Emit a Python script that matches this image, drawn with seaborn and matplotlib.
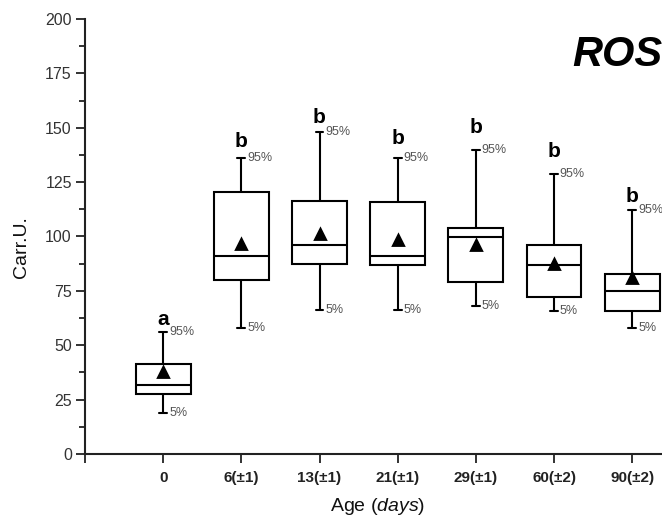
import numpy as np
import pandas as pd
import matplotlib
matplotlib.use("Agg")
import matplotlib.pyplot as plt
import seaborn as sns
from matplotlib.ticker import MultipleLocator

# ---- data ----
ages = ["0", "6(±1)", "13(±1)", "21(±1)", "29(±1)", "60(±2)", "90(±2)"]
p5 = [19.0, 57.9, 66.2, 66.2, 68.0, 65.9, 58.1]
q1 = [27.7, 80.0, 87.4, 87.0, 78.9, 72.3, 65.9]
median = [31.7, 91.2, 96.1, 91.2, 99.6, 87.0, 74.9]
q3 = [41.2, 120.6, 116.5, 116.0, 104.0, 96.1, 82.8]
p95 = [56.0, 135.9, 147.9, 135.9, 139.9, 128.7, 112.0]
mean = [37.8, 96.6, 101.2, 98.4, 95.9, 87.4, 80.8]
letters = ["a", "b", "b", "b", "b", "b", "b"]
letter_y = [59.3, 141.1, 152.0, 142.5, 147.4, 136.7, 116.0]
yticks = [0, 25, 50, 75, 100, 125, 150, 175, 200]

# five summary values per group -> quartiles equal q1/median/q3, whiskers = min/max
rows = []
for a, v0, v1, v2, v3, v4 in zip(ages, p5, q1, median, q3, p95):
    for v in (v0, v1, v2, v3, v4):
        rows.append({"age": a, "value": v})
df = pd.DataFrame(rows)

sns.set_style("ticks")
plt.rcParams["font.family"] = ["Liberation Sans", "DejaVu Sans"]
plt.rcParams["mathtext.fontset"] = "custom"
plt.rcParams["mathtext.rm"] = "Liberation Sans"
plt.rcParams["mathtext.it"] = "Liberation Sans:italic"
plt.rcParams["text.color"] = "black"
plt.rcParams["axes.labelcolor"] = "#111111"

fig = plt.figure(figsize=(6.62, 5.22), dpi=100)
ax = fig.add_axes([85 / 662, 68 / 522, 580 / 662, 435 / 522])

sns.boxplot(data=df, x="age", y="value", order=ages, whis=(0, 100), width=0.7,
            color="white", linecolor="black", linewidth=1.5, fliersize=0,
            saturation=1, ax=ax)

# narrow caps
for ln in ax.lines:
    xd = np.asarray(ln.get_xdata(), dtype=float)
    yd = np.asarray(ln.get_ydata(), dtype=float)
    if len(xd) == 2 and yd[0] == yd[1] and abs(xd[1] - xd[0]) < 0.6:
        c = xd.mean()
        ln.set_xdata([c - 0.05, c + 0.05])

sns.pointplot(x=ages, y=mean, order=ages, marker="^", linestyle="none",
              color="black", markersize=7, errorbar=None, ax=ax)

for i in range(len(ages)):
    ax.text(i + 0.075, p95[i], "95%", fontsize=9, color="#555555",
            ha="left", va="center")
    ax.text(i + 0.075, p5[i], "5%", fontsize=9, color="#555555",
            ha="left", va="center")
    ax.text(i, letter_y[i], letters[i], fontsize=15, fontweight="bold",
            color="black", ha="center", va="baseline")

ax.set_xlim(-1, 6.42)
ax.set_ylim(0, 200)
ax.set_xticks(range(-1, len(ages)))
ax.set_xticklabels([""] + ages, fontweight="bold", fontsize=11, color="#222222")
ax.set_yticks(yticks)
ax.set_yticklabels([str(t) for t in yticks], fontsize=11.5, color="#333333")
ax.yaxis.set_minor_locator(MultipleLocator(12.5))
ax.tick_params(axis="both", which="major", direction="out", length=6.5,
               width=1.3, color="#222222")
ax.tick_params(axis="y", which="major", pad=3)
ax.tick_params(axis="x", which="major", pad=6)
ax.tick_params(axis="y", which="minor", direction="out", length=4,
               width=1.3, color="#222222")

for s in ("top", "right"):
    ax.spines[s].set_visible(False)
for s in ("left", "bottom"):
    ax.spines[s].set_linewidth(1.5)
    ax.spines[s].set_color("#222222")

ax.set_ylabel("Carr.U.", fontsize=14)
ax.yaxis.set_label_coords(-0.094, 0.476)
ax.set_xlabel(r"Age $\mathit{(days)}$", fontsize=14)
ax.xaxis.set_label_coords(0.505, -0.097)

fig.text(572 / 662, 1 - 66 / 522, "ROS", fontsize=30, fontweight="bold",
         fontstyle="italic", color="black", ha="left", va="baseline")

fig.savefig("out.png", dpi=100)
